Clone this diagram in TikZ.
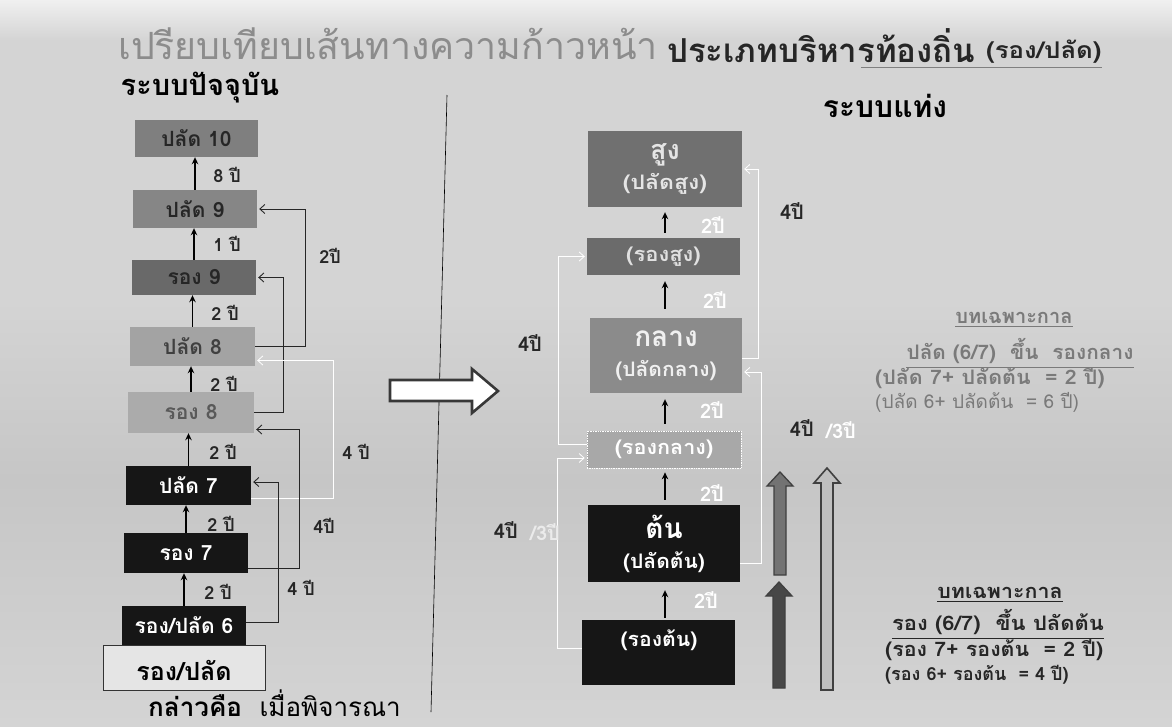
\documentclass[tikz,border=0pt]{standalone}
\usepackage{fontspec}
\newfontfamily\thai[Script=Thai]{Loma}
\usetikzlibrary{arrows.meta}
\definecolor{ink}{HTML}{262626}
\definecolor{papA}{HTML}{D4D4D4}
\definecolor{papTop}{HTML}{F0F0F0}
\definecolor{papMid}{HTML}{C6C6C6}
\definecolor{gTen}{HTML}{7F7F7F}
\definecolor{gNine}{HTML}{868686}
\definecolor{gRNine}{HTML}{696969}
\definecolor{gPEight}{HTML}{A3A3A3}
\definecolor{gREight}{HTML}{ABABAB}
\definecolor{blk}{HTML}{161616}
\definecolor{gSu}{HTML}{707070}
\definecolor{gRSu}{HTML}{6B6B6B}
\definecolor{gKl}{HTML}{8B8B8B}
\definecolor{gRKl}{HTML}{A8A8A8}
\definecolor{titlegray}{HTML}{8C8C8C}
\definecolor{notegray}{HTML}{7A7A7A}
\begin{document}
\begin{tikzpicture}[x=1pt,y=-1pt,
  box/.style={rectangle,inner sep=0pt,font=\thai\bfseries\fontsize{21}{23}\selectfont},
  dbox/.style={box,fill=blk,text=white},
  yr/.style={inner sep=0pt,font=\thai\bfseries\fontsize{18}{20}\selectfont,text=ink},
  wyr/.style={inner sep=0pt,font=\thai\bfseries\fontsize{20}{22}\selectfont,text=white},
  byr/.style={inner sep=0pt,font=\thai\bfseries\fontsize{20}{22}\selectfont,text=ink},
  varr/.style={line width=1.6pt,draw=black,-{Stealth[length=7pt,width=6.5pt]}},
  conn/.style={line width=0.9pt,draw=ink,-{Straight Barb[length=5pt,width=9pt]},shorten >=2pt},
  wconn/.style={conn,draw=white},
  note/.style={inner sep=0pt,font=\thai\bfseries\fontsize{20}{22}\selectfont},
  fatarrow/.style={draw=black!75,line width=1.3pt,line join=miter}
]
\useasboundingbox (0,0) rectangle (1172,726);
\clip (0,0) rectangle (1172,726);
% paper
\fill[papA] (0,0) rectangle (1172,726);
\shade[top color=papTop,bottom color=papA] (0,0) rectangle (1172,40);
\shade[top color=papA,bottom color=papMid] (0,300) rectangle (1172,480);
\shade[top color=papMid,bottom color=papA] (0,480) rectangle (1172,726);

% headings
\node[anchor=west,inner sep=0pt,font=\thai\fontsize{37.5}{41}\selectfont,text=titlegray] (t1) at (118,44) {เปรียบเทียบเส้นทางความก้าวหน้า};
\node[anchor=west,inner sep=0pt,font=\thai\bfseries\fontsize{33}{36}\selectfont,text=ink] (t2) at (667,46) {ประเภทบริหารท้องถิ่น};
\node[anchor=west,inner sep=0pt,font=\thai\bfseries\fontsize{23}{25}\selectfont,text=ink] (t3) at (986,52) {\scalebox{1.12}[1]{(รอง/ปลัด)}};
\draw[gray,line width=0.8pt] (t2.south) ++(40,4) coordinate (ul1) -- (t3.south east |- ul1);
\node[inner sep=0pt,font=\thai\bfseries\fontsize{29}{31}\selectfont,text=black] (h1) at (200,88) {ระบบปัจจุบัน};
\node[inner sep=0pt,font=\thai\bfseries\fontsize{30}{32}\selectfont,text=black] (h2) at (885,106) {ระบบแท่ง};

% divider
\coordinate (d1) at (447,95);
\coordinate (d2) at (431,712);
\draw[black,line width=0.6pt] (d1) -- (d2);

% left column
\node[box,fill=gTen,text=ink,minimum width=123pt,minimum height=37pt] (p10) at (196.5,138.5) {ปลัด 10};
\node[box,fill=gNine,text=ink,minimum width=124pt,minimum height=38pt] (p9) at (195,209) {ปลัด 9};
\node[box,fill=gRNine,text=black!85,minimum width=124pt,minimum height=35pt] (r9) at (194,277.5) {รอง 9};
\node[box,fill=gPEight,text=black!75,minimum width=125pt,minimum height=39pt] (p8) at (192.5,346.5) {ปลัด 8};
\node[box,fill=gREight,text=black!65,minimum width=126pt,minimum height=41pt] (r8) at (191,412.5) {รอง 8};
\node[dbox,minimum width=125pt,minimum height=39pt] (p7) at (188.5,485.5) {ปลัด 7};
\node[dbox,minimum width=124pt,minimum height=40pt] (r7) at (186,553) {รอง 7};
\node[box,fill=black!10,draw=black!80,line width=0.8pt,text=black,minimum width=162pt,minimum height=45pt,font=\thai\bfseries\fontsize{25}{27}\selectfont,text depth=0pt] (rp) at (184,667.5) {\raisebox{-6pt}{รอง/ปลัด}};
\node[dbox,minimum width=124pt,minimum height=39pt] (rp6) at (184,625.5) {รอง/ปลัด 6};

\draw[varr] (p9.north) -- (p9.north |- p10.south);
\draw[varr] (r9.north) -- (r9.north |- p9.south);
\draw[varr] (p8.north) -- (p8.north |- r9.south);
\draw[varr] (r8.north) -- (r8.north |- p8.south);
\draw[varr] (p7.north) -- (p7.north |- r8.south);
\draw[varr] (r7.north) -- (r7.north |- p7.south);
\draw[varr] (rp6.north) -- (rp6.north |- r7.south);

\node[yr] (y1) at (227,175) {8 ปี};
\node[yr] (y2) at (227,244) {1 ปี};
\node[yr] (y3) at (225,313) {2 ปี};
\node[yr] (y4) at (224,384) {2 ปี};
\node[yr] (y5) at (223,452) {2 ปี};
\node[yr] (y6) at (221,524) {2 ปี};
\node[yr] (y7) at (218,592) {2 ปี};

% side connectors (left)
\draw[conn] (p8.east) -- ++(50,0) |- (p9.east);
\draw[conn] (r8.east) -- ++(29,0) |- (r9.east);
\draw[wconn,line width=0.8pt] ([yshift=-13pt]p7.east) -- ++(82,0) |- ([yshift=-14pt]p8.east);
\draw[conn] ([yshift=-15pt]r7.east) -- ++(51,0) |- ([yshift=-17pt]r8.east);
\draw[conn] ([yshift=3.5pt]rp6.east) -- ++(32,0) |- ([yshift=3.5pt]p7.east);

\node[yr] (l1) at (330,256) {2ปี};
\node[yr] (l2) at (356,452) {4 ปี};
\node[yr] (l3) at (324,526) {4ปี};
\node[yr] (l4) at (301,588) {4 ปี};

% big hollow arrow
\draw[draw=black!78,fill=white,line width=2.6pt,line join=miter]
  (390,380) -- (472,380) -- (472,369) -- (498,391) -- (472,413) -- (472,401) -- (390,401) -- cycle;

% right column
\node[box,fill=gSu,text=white!90!black,minimum width=154pt,minimum height=76pt,align=center] (su) at (665,169)
  {{\fontsize{27}{29}\selectfont สูง}\\[7pt]{\fontsize{20}{22}\selectfont\scalebox{1.15}[1]{(ปลัดสูง)}}};
\node[box,fill=gRSu,text=white!88!black,minimum width=153pt,minimum height=37pt,font=\thai\bfseries\fontsize{20}{22}\selectfont] (rsu) at (663.5,256.5) {\scalebox{1.1}[1]{(รองสูง)}};
\node[box,fill=gKl,text=white!94!black,minimum width=152pt,minimum height=75pt,align=center] (kl) at (666,355.5)
  {{\fontsize{28}{30}\selectfont กลาง}\\[7pt]{\fontsize{20}{22}\selectfont\scalebox{1.05}[1]{(ปลัดกลาง)}}};
\node[box,fill=gRKl,draw=white,densely dotted,line width=0.7pt,text=white,minimum width=154pt,minimum height=37pt,font=\thai\bfseries\fontsize{20}{22}\selectfont] (rkl) at (664,449.5) {\scalebox{1.08}[1]{(รองกลาง)}};
\node[dbox,minimum width=152pt,minimum height=77pt,align=center] (tn) at (664,543.5)
  {{\fontsize{28}{30}\selectfont ต้น}\\[7pt]{\fontsize{20}{22}\selectfont\scalebox{1.05}[1]{(ปลัดต้น)}}};
\node[dbox,minimum width=153pt,minimum height=65pt] (rtn) at (658.5,652.5) {};
\node[inner sep=0pt,text=white,font=\thai\bfseries\fontsize{20}{22}\selectfont] (rtnt) at (659,640) {\scalebox{1.06}[1]{(รองต้น)}};

\draw[varr,shorten <=5pt,shorten >=5pt] (rsu.north -| su.south) -- (su.south);
\draw[varr,shorten <=9pt,shorten >=6pt] (kl.north -| su.south) -- (rsu.south -| su.south);
\draw[varr,shorten <=7pt,shorten >=6pt] (rkl.north -| su.south) -- (kl.south -| su.south);
\draw[varr,shorten <=5pt,shorten >=4pt] (tn.north -| su.south) -- (rkl.south -| su.south);
\draw[varr,shorten <=2pt,shorten >=8pt] (rtn.north -| su.south) -- (tn.south -| su.south);

\node[wyr] (w1) at (713,225) {2ปี};
\node[wyr] (w2) at (715,300) {2ปี};
\node[wyr] (w3) at (712,410) {2ปี};
\node[wyr] (w4) at (712,493) {2ปี};
\node[wyr] (w5) at (706,600) {2ปี};

% white brackets (right)
\draw[wconn,line width=0.8pt] ([yshift=-2.5pt]kl.east) -- ++(16,0) |- (su.east);
\draw[wconn,line width=0.8pt] ([yshift=5.5pt]rkl.west) -- ++(-28,0) |- (rsu.west);
\draw[wconn,line width=0.8pt] ([yshift=-19.5pt]tn.east) -- ++(21,0) |- ([yshift=-16.5pt]kl.east);
\draw[wconn,line width=0.8pt] ([yshift=4.5pt]rtn.west) -- ++(-24,0) |- ([yshift=-8.5pt]rkl.west);

\node[byr] (k1) at (792,211) {4ปี};
\node[byr] (k2) at (530,343) {4ปี};
\node[byr,anchor=east] (k3) at (814,428) {4ปี};
\node[wyr,anchor=west] (k3b) at (826,430) {/3ปี};
\node[byr,anchor=east] (k4) at (518,530) {4ปี};
\node[wyr,anchor=west,text=white!92!black] (k4b) at (530,532) {/3ปี};

% thick arrows
\filldraw[fatarrow,fill=black!55] (774,575) -- (774,486) -- (767,486) -- (780,472) -- (793,486) -- (786,486) -- (786,575) -- cycle;
\filldraw[fatarrow,fill=black!72] (773,688) -- (773,596) -- (766,596) -- (779,582) -- (792,596) -- (785,596) -- (785,688) -- cycle;
\filldraw[fatarrow,fill=black!25,line width=1.6pt] (821,690) -- (821,483) -- (814,483) -- (827,468) -- (840,483) -- (833,483) -- (833,690) -- cycle;

% notes
\node[note,text=notegray] (n1) at (1014,318) {บทเฉพาะกาล};
\draw[notegray,line width=0.8pt] ([yshift=-3pt]n1.south west) -- ([yshift=-3pt]n1.south east);
\node[note,text=notegray] (n2) at (1020,351) {\scalebox{1.04}[1]{ปลัด (6/7)\ \ ขึ้น\ \ รองกลาง}};
\draw[notegray,line width=0.8pt] ([yshift=-3pt]n2.south west) -- ([yshift=-3pt]n2.south east);
\node[note,text=notegray,anchor=west] (n3) at (875,378) {\scalebox{1.07}[1]{(ปลัด 7+ ปลัดต้น\ \ = 2 ปี)}};
\node[note,text=notegray,anchor=west,font=\thai\fontsize{19}{21}\selectfont] (n4) at (875,402) {(ปลัด 6+ ปลัดต้น\ \ = 6 ปี)};

\node[note,text=ink] (m1) at (1000,593) {\scalebox{1.07}[1]{บทเฉพาะกาล}};
\draw[ink,line width=0.8pt] ([yshift=-3pt]m1.south west) -- ([yshift=-3pt]m1.south east);
\node[note,text=ink] (m2) at (998,622) {\scalebox{1.1}[1]{รอง (6/7)\ \ ขึ้น ปลัดต้น}};
\draw[ink,line width=0.8pt] ([yshift=-3pt]m2.south west) -- ([yshift=-3pt]m2.south east);
\node[note,text=ink,anchor=west] (m3) at (885,650) {\scalebox{1.07}[1]{(รอง 7+ รองต้น\ \ = 2 ปี)}};
\node[note,text=ink,anchor=west,font=\thai\bfseries\fontsize{18}{20}\selectfont] (m4) at (885,675) {(รอง 6+ รองต้น\ \ = 4 ปี)};

% bottom line (cut by the page edge in the reference)
\node[anchor=base west,inner sep=0pt,text depth=0pt,font=\thai\fontsize{26}{28}\selectfont,text=black] (bt) at (148,716) {{\bfseries กล่าวคือ}\ \ เมื่อพิจารณา};
\end{tikzpicture}
\end{document}
